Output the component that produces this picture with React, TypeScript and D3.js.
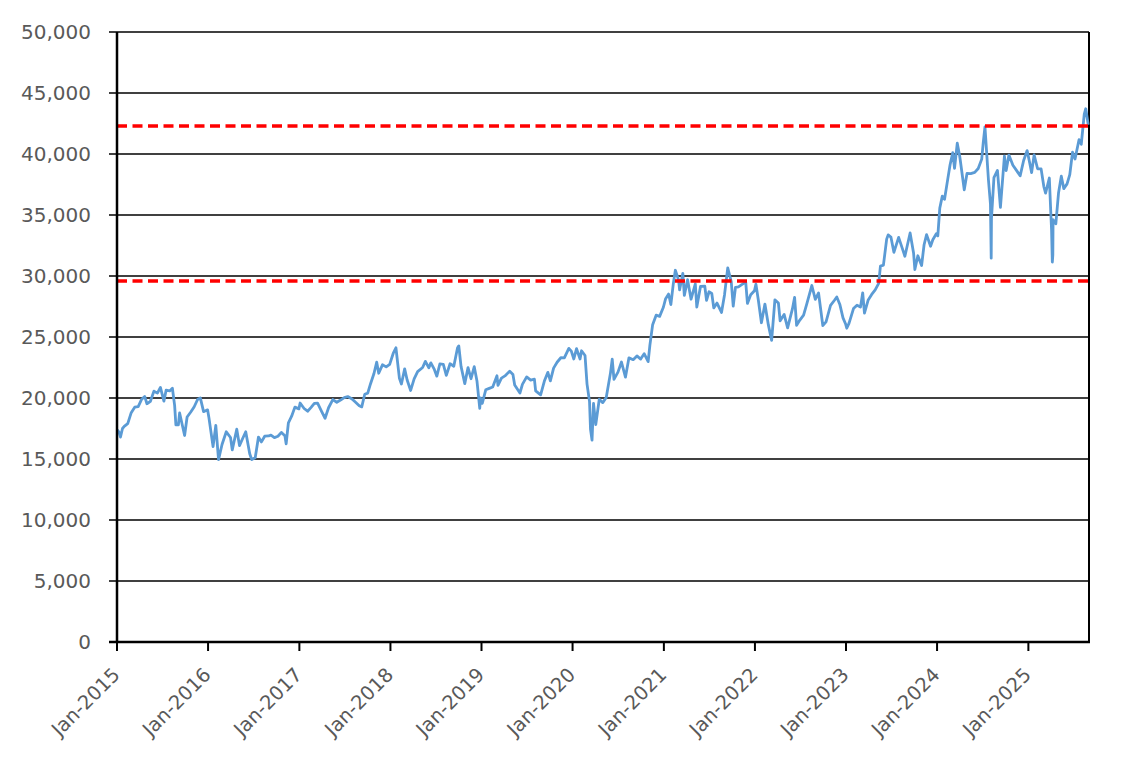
import { useMemo } from "react";
import * as d3 from "d3";

// Daily-close style series at roughly two-week spacing
const closes: [string, number][] = [
  ["2015-01-02", 17400], ["2015-01-09", 17200], ["2015-01-15", 16800], ["2015-01-23", 17500], ["2015-01-30", 17670],
  ["2015-02-13", 17900], ["2015-02-27", 18800], ["2015-03-13", 19250], ["2015-03-27", 19300], ["2015-04-10", 19900],
  ["2015-04-22", 20130], ["2015-05-01", 19530], ["2015-05-15", 19730], ["2015-05-29", 20560], ["2015-06-12", 20400],
  ["2015-06-24", 20870], ["2015-07-08", 19740], ["2015-07-17", 20650], ["2015-07-31", 20580], ["2015-08-11", 20800],
  ["2015-08-20", 19400], ["2015-08-25", 17800], ["2015-09-04", 17800], ["2015-09-09", 18770], ["2015-09-29", 16930],
  ["2015-10-09", 18440], ["2015-10-23", 18830], ["2015-11-06", 19260], ["2015-11-20", 19880], ["2015-12-01", 20010],
  ["2015-12-14", 18880], ["2015-12-30", 19030],
  ["2016-01-04", 18450], ["2016-01-21", 16020], ["2016-02-01", 17750], ["2016-02-12", 14950], ["2016-02-26", 16190],
  ["2016-03-14", 17230], ["2016-03-31", 16760], ["2016-04-07", 15750], ["2016-04-25", 17440], ["2016-05-06", 16100],
  ["2016-05-20", 16740], ["2016-05-31", 17230], ["2016-06-16", 15430], ["2016-06-24", 14950], ["2016-07-08", 15100],
  ["2016-07-21", 16800], ["2016-08-02", 16400], ["2016-08-15", 16870], ["2016-08-31", 16890], ["2016-09-09", 16960],
  ["2016-09-23", 16750], ["2016-10-07", 16860], ["2016-10-21", 17180], ["2016-11-04", 16900], ["2016-11-09", 16250],
  ["2016-11-18", 17970], ["2016-12-01", 18510], ["2016-12-14", 19250], ["2016-12-30", 19110],
  ["2017-01-04", 19590], ["2017-01-20", 19140], ["2017-02-03", 18920], ["2017-02-17", 19230], ["2017-03-02", 19560],
  ["2017-03-15", 19580], ["2017-03-31", 18910], ["2017-04-14", 18340], ["2017-04-28", 19200], ["2017-05-15", 19870],
  ["2017-05-31", 19650], ["2017-06-15", 19830], ["2017-06-30", 20030], ["2017-07-14", 20120], ["2017-07-31", 19920],
  ["2017-08-10", 19730], ["2017-08-29", 19360], ["2017-09-08", 19270], ["2017-09-20", 20310], ["2017-10-02", 20400],
  ["2017-10-13", 21150], ["2017-10-27", 22010], ["2017-11-07", 22940], ["2017-11-15", 22030], ["2017-11-30", 22720],
  ["2017-12-15", 22550], ["2017-12-29", 22760],
  ["2018-01-12", 23650], ["2018-01-23", 24120], ["2018-02-06", 21610], ["2018-02-14", 21150], ["2018-02-27", 22390],
  ["2018-03-09", 21470], ["2018-03-23", 20620], ["2018-04-06", 21570], ["2018-04-20", 22160], ["2018-05-10", 22500],
  ["2018-05-21", 23000], ["2018-06-04", 22480], ["2018-06-12", 22880], ["2018-06-26", 22340], ["2018-07-06", 21790],
  ["2018-07-18", 22790], ["2018-08-01", 22750], ["2018-08-13", 21860], ["2018-08-28", 22810], ["2018-09-12", 22600],
  ["2018-09-27", 24120], ["2018-10-02", 24270], ["2018-10-11", 22590], ["2018-10-26", 21180], ["2018-11-08", 22490],
  ["2018-11-20", 21580], ["2018-12-03", 22570], ["2018-12-14", 21370], ["2018-12-25", 19160], ["2018-12-28", 20010],
  ["2019-01-04", 19560], ["2019-01-18", 20670], ["2019-02-01", 20790], ["2019-02-15", 20900], ["2019-03-04", 21820],
  ["2019-03-08", 21030], ["2019-03-22", 21630], ["2019-04-05", 21810], ["2019-04-24", 22200], ["2019-05-07", 21920],
  ["2019-05-14", 21070], ["2019-06-04", 20410], ["2019-06-14", 21120], ["2019-07-01", 21730], ["2019-07-17", 21470],
  ["2019-08-01", 21540], ["2019-08-06", 20590], ["2019-08-26", 20260], ["2019-09-10", 21390], ["2019-09-24", 22100],
  ["2019-10-04", 21410], ["2019-10-17", 22450], ["2019-10-31", 22930], ["2019-11-15", 23300], ["2019-11-29", 23290],
  ["2019-12-17", 24070], ["2019-12-27", 23840],
  ["2020-01-06", 23200], ["2020-01-17", 24040], ["2020-01-31", 23200], ["2020-02-06", 23870], ["2020-02-20", 23480],
  ["2020-02-28", 21140], ["2020-03-09", 19700], ["2020-03-13", 17430], ["2020-03-19", 16550], ["2020-03-25", 19550],
  ["2020-04-03", 17820], ["2020-04-17", 19900], ["2020-05-01", 19620], ["2020-05-15", 20040], ["2020-06-01", 22060],
  ["2020-06-08", 23180], ["2020-06-15", 21530], ["2020-07-01", 22120], ["2020-07-15", 22950], ["2020-07-31", 21710],
  ["2020-08-14", 23290], ["2020-08-31", 23140], ["2020-09-15", 23450], ["2020-09-30", 23190], ["2020-10-14", 23630],
  ["2020-10-30", 22980], ["2020-11-06", 24330], ["2020-11-17", 26010], ["2020-12-01", 26790], ["2020-12-15", 26690],
  ["2020-12-30", 27440],
  ["2021-01-08", 28140], ["2021-01-20", 28520], ["2021-01-29", 27660], ["2021-02-08", 29390], ["2021-02-16", 30470],
  ["2021-03-01", 29660], ["2021-03-05", 28860], ["2021-03-18", 30220], ["2021-03-24", 28410], ["2021-04-06", 29700],
  ["2021-04-20", 28100], ["2021-05-07", 29360], ["2021-05-13", 27450], ["2021-05-28", 29150], ["2021-06-14", 29160],
  ["2021-06-21", 28010], ["2021-07-01", 28710], ["2021-07-12", 28570], ["2021-07-20", 27390], ["2021-08-02", 27780],
  ["2021-08-20", 27010], ["2021-09-01", 28450], ["2021-09-14", 30670], ["2021-09-28", 29540], ["2021-10-06", 27530],
  ["2021-10-15", 29070], ["2021-10-27", 29100], ["2021-11-09", 29290], ["2021-11-25", 29500], ["2021-12-02", 27750],
  ["2021-12-15", 28460], ["2021-12-30", 28790],
  ["2022-01-05", 29330], ["2022-01-14", 28120], ["2022-01-27", 26170], ["2022-02-10", 27700], ["2022-02-24", 25970],
  ["2022-03-09", 24720], ["2022-03-22", 28040], ["2022-04-05", 27790], ["2022-04-12", 26330], ["2022-04-28", 26850],
  ["2022-05-12", 25750], ["2022-05-31", 27280], ["2022-06-09", 28250], ["2022-06-17", 25960], ["2022-06-30", 26390],
  ["2022-07-15", 26790], ["2022-07-29", 27800], ["2022-08-17", 29220], ["2022-08-31", 28090], ["2022-09-13", 28610],
  ["2022-09-30", 25940], ["2022-10-13", 26240], ["2022-10-31", 27590], ["2022-11-15", 27990], ["2022-11-25", 28280],
  ["2022-12-07", 27690], ["2022-12-20", 26570], ["2022-12-30", 26090],
  ["2023-01-04", 25720], ["2023-01-13", 26120], ["2023-01-31", 27330], ["2023-02-14", 27600], ["2023-02-28", 27450],
  ["2023-03-09", 28620], ["2023-03-16", 26950], ["2023-03-31", 28040], ["2023-04-14", 28490], ["2023-04-28", 28860],
  ["2023-05-12", 29390], ["2023-05-19", 30810], ["2023-05-31", 30890], ["2023-06-13", 33020], ["2023-06-19", 33370],
  ["2023-06-30", 33190], ["2023-07-12", 31940], ["2023-07-31", 33170], ["2023-08-15", 32240], ["2023-08-25", 31620],
  ["2023-09-15", 33530], ["2023-09-29", 31860], ["2023-10-04", 30530], ["2023-10-16", 31660], ["2023-10-31", 30860],
  ["2023-11-10", 32560], ["2023-11-20", 33390], ["2023-12-06", 32440], ["2023-12-15", 32970], ["2023-12-29", 33460],
  ["2024-01-04", 33290], ["2024-01-12", 35580], ["2024-01-22", 36550], ["2024-01-31", 36290], ["2024-02-13", 37960],
  ["2024-02-22", 39100], ["2024-03-04", 40110], ["2024-03-11", 38820], ["2024-03-22", 40890], ["2024-04-01", 39800],
  ["2024-04-19", 37070], ["2024-04-30", 38400], ["2024-05-15", 38390], ["2024-05-31", 38490], ["2024-06-14", 38810],
  ["2024-06-28", 39580], ["2024-07-04", 40910], ["2024-07-11", 42220], ["2024-07-25", 37870], ["2024-08-02", 35910],
  ["2024-08-05", 31460], ["2024-08-06", 34680], ["2024-08-16", 38060], ["2024-08-30", 38650], ["2024-09-11", 35620],
  ["2024-09-27", 39830], ["2024-10-04", 38640], ["2024-10-15", 39910], ["2024-10-31", 39080], ["2024-11-15", 38640],
  ["2024-11-29", 38210], ["2024-12-13", 39470], ["2024-12-27", 40280],
  ["2025-01-06", 39300], ["2025-01-14", 38470], ["2025-01-24", 39930], ["2025-02-07", 38790], ["2025-02-21", 38780],
  ["2025-03-04", 37330], ["2025-03-11", 36790], ["2025-03-26", 38030], ["2025-03-31", 35620], ["2025-04-04", 33780],
  ["2025-04-07", 31140], ["2025-04-09", 31710], ["2025-04-10", 34610], ["2025-04-21", 34280], ["2025-05-02", 36830],
  ["2025-05-13", 38180], ["2025-05-23", 37160], ["2025-06-05", 37550], ["2025-06-16", 38310], ["2025-06-27", 40150],
  ["2025-07-07", 39590], ["2025-07-23", 41170], ["2025-08-01", 40800], ["2025-08-13", 43270], ["2025-08-19", 43710],
  ["2025-08-29", 42400],
];

const yTicks = [0, 5000, 10000, 15000, 20000, 25000, 30000, 35000, 40000, 45000, 50000];
const tickYears = [2015, 2016, 2017, 2018, 2019, 2020, 2021, 2022, 2023, 2024, 2025];
const bandLevels = [42300, 29600];

export default function App() {
  const layout = useMemo(() => {
    const width = 1144;
    const height = 769;
    const margin = { top: 32, right: 55, bottom: 127, left: 117 };
    const parse = d3.timeParse("%Y-%m-%d");
    const points = closes.map(([d, v]) => ({ date: parse(d) as Date, value: v }));
    const x = d3
      .scaleTime()
      .domain([new Date(2015, 0, 1), new Date(2025, 8, 1)])
      .range([margin.left, width - margin.right]);
    const y = d3.scaleLinear().domain([0, 50000]).range([height - margin.bottom, margin.top]);
    return { width, height, margin, points, x, y };
  }, []);

  const { width, height, margin, points, x, y } = layout;
  const line = d3
    .line<{ date: Date; value: number }>()
    .x((p) => x(p.date))
    .y((p) => y(p.value));
  const fmt = d3.format(",");
  const right = width - margin.right;
  const bottom = height - margin.bottom;
  const font = "'DejaVu Sans', sans-serif";

  return (
    <div>
      <style>{`body{margin:0;}`}</style>
      <svg width={width} height={height} viewBox={`0 0 ${width} ${height}`} style={{ display: "block", background: "#fff" }}>
        {yTicks.map((t) => (
          <g key={t}>
            {t > 0 && <line x1={margin.left - 8} x2={right} y1={y(t)} y2={y(t)} stroke="#000" strokeWidth={1.5} />}
            <text x={margin.left - 26} y={y(t) + 7} textAnchor="end" fontSize={20} fontFamily={font} fill="#595959">
              {fmt(t)}
            </text>
          </g>
        ))}
        <line x1={right} x2={right} y1={margin.top} y2={bottom} stroke="#000" strokeWidth={2} />
        <path d={line(points) ?? ""} fill="none" stroke="#5B9BD5" strokeWidth={2.8} strokeLinejoin="round" />
        {bandLevels.map((b) => (
          <line key={b} x1={margin.left} x2={right} y1={y(b)} y2={y(b)} stroke="#FF0000" strokeWidth={3.5} strokeDasharray="10 5.5" />
        ))}
        <line x1={margin.left} x2={margin.left} y1={margin.top} y2={bottom} stroke="#000" strokeWidth={2.5} />
        <line x1={margin.left - 8} x2={right + 1} y1={bottom} y2={bottom} stroke="#000" strokeWidth={2.5} />
        {tickYears.map((yr) => {
          const tx = x(new Date(yr, 0, 1));
          return (
            <g key={yr}>
              <line x1={tx} x2={tx} y1={bottom} y2={bottom + 9} stroke="#000" strokeWidth={2} />
              <text
                transform={`translate(${tx + 4},${bottom + 34}) rotate(-45)`}
                textAnchor="end"
                fontSize={19.5}
                fontFamily={font}
                fill="#595959"
              >
                {`Jan-${yr}`}
              </text>
            </g>
          );
        })}
      </svg>
    </div>
  );
}
